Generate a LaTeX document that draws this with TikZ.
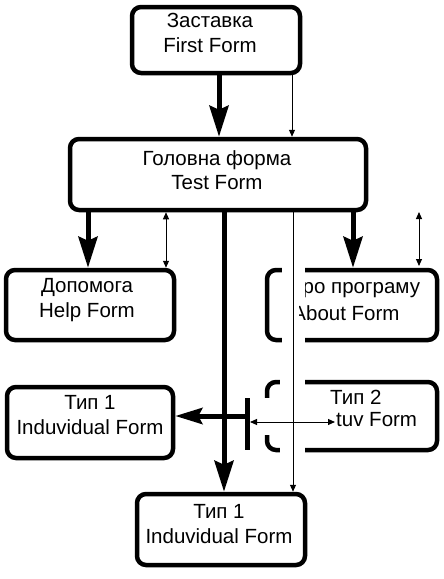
\documentclass[tikz,border=0pt]{standalone}
\usepackage{fontspec}
\setmainfont{Liberation Sans}
\usetikzlibrary{arrows.meta}
\begin{document}
\begin{tikzpicture}[x=1pt,y=-1pt,
  formbox/.style={draw, line width=4.5pt, rounded corners=9pt, inner sep=0pt},
  formtext/.style={align=center, font=\fontsize{20.5}{24.5}\selectfont, inner sep=0pt},
  bigarrow/.style={line width=5pt, -{Stealth[length=31pt,width=19pt,inset=4pt]}},
  bigline/.style={line width=5pt},
  thinarrow/.style={line width=1pt, -{Triangle[length=7pt,width=6pt]}},
  thinboth/.style={line width=1pt, {Triangle[length=7pt,width=6pt]}-{Triangle[length=7pt,width=6pt]}},
  hidebox/.style={fill=white, draw=none}]
\useasboundingbox (0,0) rectangle (444,579);
\fill[white] (0,0) rectangle (444,579);

% boxes
\node[formbox, minimum width=168pt, minimum height=66pt] (first) at (216,40) {};
\node[formtext] (firstT) at (210,33) {Заставка\\First Form};
\node[formbox, minimum width=296pt, minimum height=71pt] (main) at (218,174.5) {};
\node[formtext] (mainT) at (217,170) {Головна форма\\Test Form};
\node[formbox, minimum width=168pt, minimum height=70pt] (help) at (90,305) {};
\node[formtext] (helpT) at (87,300) {Допомога\\Help Form};
\node[formbox, minimum width=170pt, minimum height=70pt] (about) at (352,305) {};
\node[formtext] (aboutA) at (354,289) {Про програму};
\node[formtext] (aboutB) at (346,313) {About Form};
\node[formbox, minimum width=166pt, minimum height=71pt] (typeL) at (90,422.5) {};
\node[formtext] (typeLT) at (90,415) {Тип 1\\Induvidual Form};
\node[formbox, minimum width=170pt, minimum height=68pt] (type2) at (352,416) {};
\node[formtext, anchor=west] (type2A) at (330,397) {Тип 2};
\node[formtext, anchor=west] (type2B) at (336,420) {tuv Form};
\node[formbox, minimum width=168pt, minimum height=71pt] (bottom) at (221,529.5) {};
\node[formtext] (bottomT) at (219,524) {Тип 1\\Induvidual Form};

% hidden parts
\fill[hidebox] (282,260) rectangle (299,350);
\fill[hidebox] (298,262) rectangle (305,276);
\fill[hidebox] (298,276) rectangle (304.5,299);
\fill[hidebox] (298,334) rectangle (305,348);
\fill[hidebox] (280,372) rectangle (305,460);
\fill[hidebox] (260,398) rectangle (282,435);

% x positions
\coordinate (xa) at (219,0);
\coordinate (xb) at (292,0);
\coordinate (xc) at (88,0);
\coordinate (xd) at (166,0);
\coordinate (xe) at (224,0);
\coordinate (xf) at (293,0);
\coordinate (xg) at (353,0);
\coordinate (t1) at (419,212);
\coordinate (t2) at (419,266);
\coordinate (barT) at (247,398);
\coordinate (barB) at (247,450);
\coordinate (barM) at (247,416);
\coordinate (h1) at (250,422);
\coordinate (h2) at (335,422);

% connectors
\draw[bigarrow] (first.south -| xa) -- (main.north -| xa);
\draw[thinarrow] (first.south -| xb) -- (main.north -| xb);
\draw[bigarrow] (main.south -| xc) -- (help.north -| xc);
\draw[thinboth] (main.south -| xd) -- (help.north -| xd);
\draw[bigarrow] (main.south -| xg) -- (about.north -| xg);
\draw[thinboth] (t1) -- (t2);
\draw[bigarrow] (main.south -| xe) -- (bottom.north -| xe);
\draw[thinarrow] (main.south -| xf) -- (bottom.north -| xf);
\draw[bigline] (barT) -- (barB);
\draw[line width=5pt, -{Stealth[length=27pt,width=16pt,inset=4pt]}] (barM) -- (barM -| typeL.east);
\draw[thinboth] (h1) -- (h2);
\end{tikzpicture}
\end{document}
